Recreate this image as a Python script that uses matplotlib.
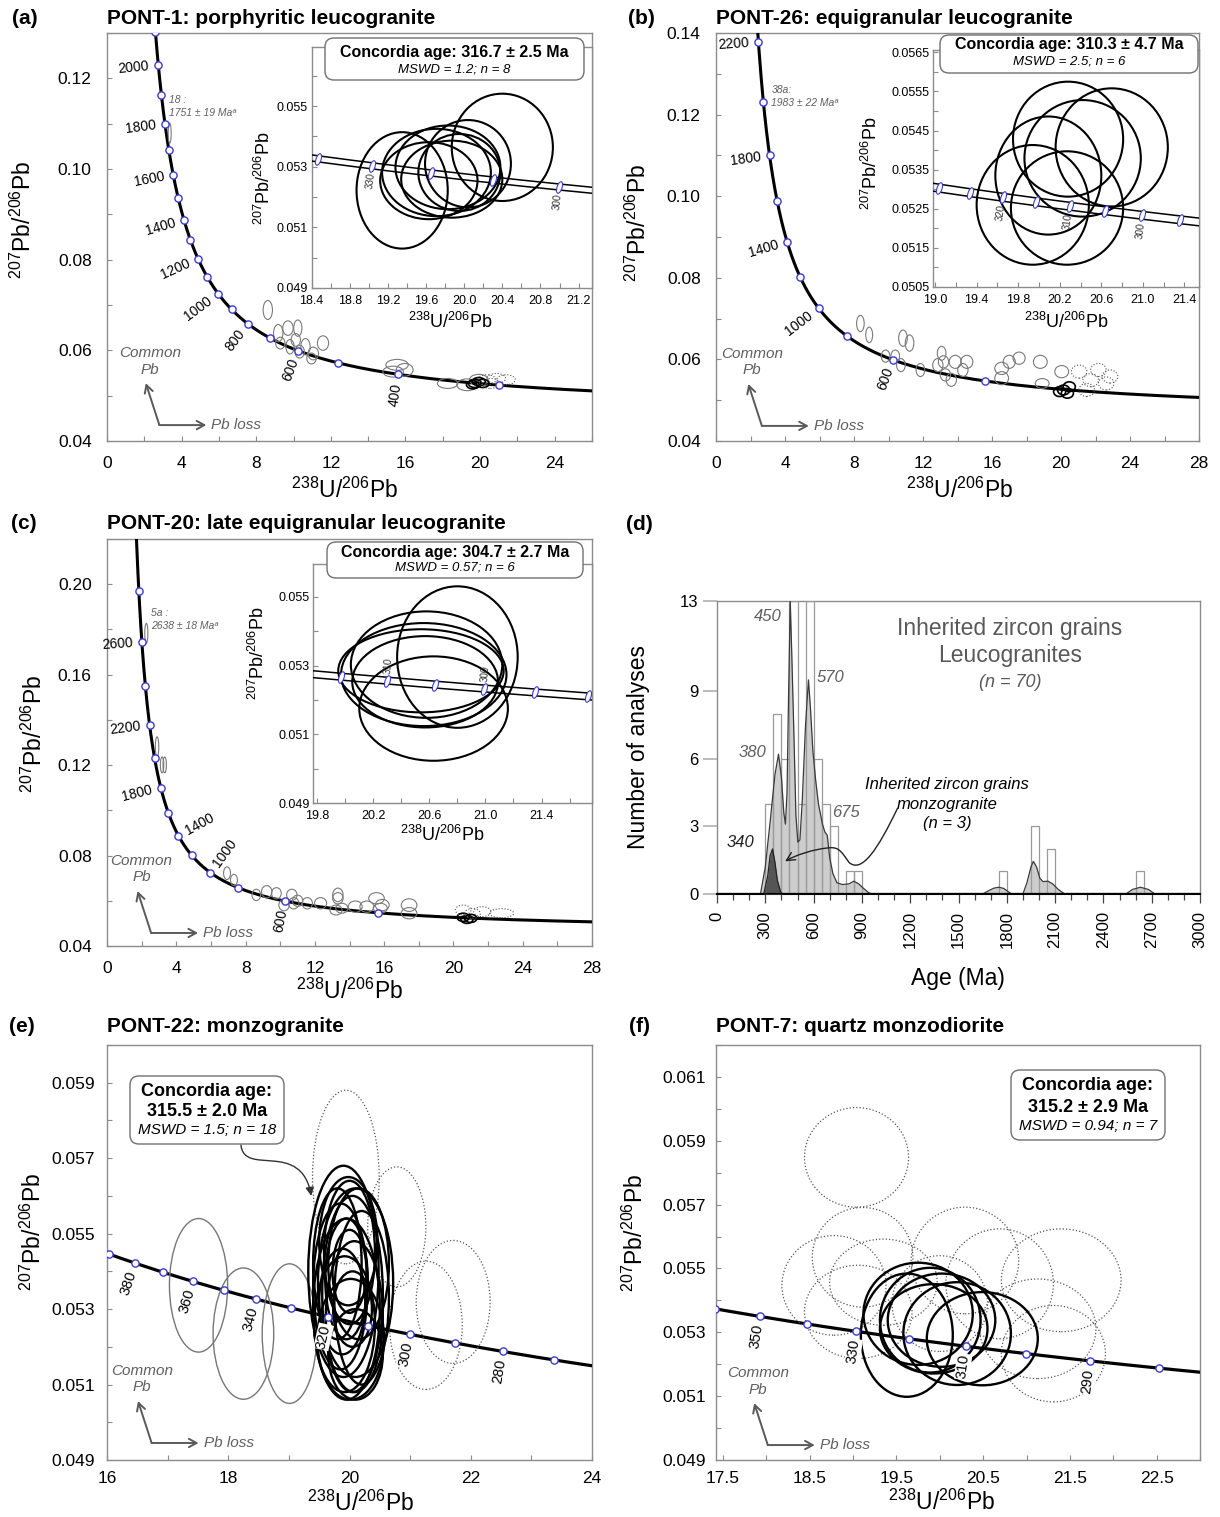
import numpy as np
import matplotlib
matplotlib.use("Agg")
import matplotlib.pyplot as plt
from matplotlib.patches import Ellipse, FancyBboxPatch, FancyArrowPatch
from matplotlib.path import Path
from matplotlib.transforms import Affine2D, offset_copy
from matplotlib.ticker import MultipleLocator, FixedLocator, FormatStrFormatter

plt.rcParams['font.family'] = ['Liberation Sans', 'DejaVu Sans']
plt.rcParams['mathtext.fontset'] = 'custom'
plt.rcParams['mathtext.rm'] = 'Liberation Sans'
plt.rcParams['mathtext.it'] = 'Liberation Sans:italic'
plt.rcParams['mathtext.bf'] = 'Liberation Sans:bold'

W, H = 1220, 1517

# decay constants and present-day 238U/235U
L238 = 1.55125e-10
L235 = 9.8485e-10
U_RATIO = 137.88
BAND = 0.0019          # half-width of the decay-constant band (relative)

# ---------------- data: ellipses as (x, y, rx, ry) ----------------
# (a) PONT-1
a_grey = [(3.36, 0.1079, 0.08, 0.0022), (8.62, 0.0689, 0.25, 0.0021),
          (9.18, 0.0638, 0.25, 0.0019), (9.70, 0.0649, 0.28, 0.0016),
          (10.23, 0.0649, 0.22, 0.0018), (10.12, 0.0623, 0.25, 0.0014),
          (9.81, 0.0608, 0.22, 0.0016), (10.64, 0.0608, 0.25, 0.0018),
          (11.06, 0.0593, 0.28, 0.0014), (11.58, 0.0616, 0.30, 0.0016),
          (10.96, 0.0582, 0.25, 0.0012), (10.33, 0.0597, 0.25, 0.0014),
          (9.29, 0.0616, 0.25, 0.0013), (15.55, 0.0568, 0.60, 0.0012),
          (15.96, 0.0557, 0.45, 0.0014), (15.34, 0.0553, 0.55, 0.0012),
          (18.26, 0.0527, 0.55, 0.0011), (19.30, 0.0524, 0.55, 0.0013),
          (19.93, 0.0535, 0.50, 0.0012)]
a_black = [(19.72, 0.0527, 0.35, 0.0009), (19.93, 0.0531, 0.35, 0.0009),
           (19.62, 0.0524, 0.35, 0.0009), (20.14, 0.0527, 0.35, 0.0009)]
a_dotted = [(20.35, 0.0535, 0.50, 0.0011), (20.87, 0.0538, 0.50, 0.0011),
            (21.39, 0.0535, 0.50, 0.0011), (20.55, 0.0527, 0.50, 0.0011)]
a_inset = [(19.35, 0.05222, 0.478, 0.00192), (20.40, 0.05364, 0.53, 0.00177),
           (19.71, 0.05281, 0.57, 0.00144), (19.83, 0.05298, 0.55, 0.00138),
           (19.87, 0.05259, 0.53, 0.00127), (19.63, 0.05254, 0.51, 0.00127),
           (19.95, 0.05281, 0.43, 0.00127), (20.04, 0.05310, 0.45, 0.00144)]

# (b) PONT-26
b_grey = [(8.37, 0.0688, 0.22, 0.0020), (8.88, 0.0660, 0.20, 0.0019),
          (10.84, 0.0652, 0.25, 0.0020), (11.22, 0.0640, 0.25, 0.0020),
          (9.83, 0.0608, 0.25, 0.0015), (10.39, 0.0608, 0.25, 0.0015),
          (10.72, 0.0586, 0.25, 0.0016), (11.85, 0.0574, 0.25, 0.0016),
          (13.08, 0.0615, 0.25, 0.0017), (13.19, 0.0594, 0.30, 0.0015),
          (12.86, 0.0586, 0.30, 0.0016), (13.87, 0.0594, 0.35, 0.0016),
          (14.54, 0.0594, 0.35, 0.0016), (14.31, 0.0574, 0.30, 0.0016),
          (13.64, 0.0550, 0.30, 0.0016), (13.30, 0.0562, 0.30, 0.0015),
          (17.00, 0.0594, 0.35, 0.0016), (16.56, 0.0578, 0.40, 0.0015),
          (16.56, 0.0554, 0.40, 0.0016), (18.80, 0.0594, 0.40, 0.0016),
          (18.91, 0.0541, 0.40, 0.0012), (20.04, 0.0570, 0.40, 0.0015),
          (17.57, 0.0603, 0.35, 0.0015)]
b_black = [(20.15, 0.0525, 0.35, 0.0012), (20.48, 0.0533, 0.35, 0.0012),
           (19.92, 0.0521, 0.35, 0.0012), (20.37, 0.0517, 0.35, 0.0012)]
b_dotted = [(21.05, 0.0570, 0.45, 0.0016), (22.17, 0.0574, 0.45, 0.0016),
            (22.62, 0.0541, 0.45, 0.0016), (21.49, 0.0525, 0.45, 0.0016),
            (22.84, 0.0558, 0.45, 0.0016), (21.72, 0.0549, 0.45, 0.0016)]
b_inset = [(20.28, 0.05428, 0.53, 0.00147), (20.70, 0.05407, 0.54, 0.00151),
           (20.09, 0.05335, 0.51, 0.00151), (19.94, 0.05260, 0.54, 0.00153),
           (20.27, 0.05252, 0.54, 0.00145), (20.42, 0.05379, 0.56, 0.00149)]

# (c) PONT-20
c_grey = [(2.27, 0.1783, 0.09, 0.0044), (2.89, 0.1281, 0.10, 0.0044),
          (3.33, 0.1201, 0.10, 0.0035), (3.18, 0.1201, 0.10, 0.0035),
          (6.93, 0.0722, 0.20, 0.0028), (7.33, 0.0692, 0.20, 0.0025),
          (8.62, 0.0626, 0.25, 0.0025), (9.22, 0.0640, 0.30, 0.0027),
          (9.78, 0.0633, 0.28, 0.0025), (10.67, 0.0626, 0.30, 0.0025),
          (10.78, 0.0589, 0.30, 0.0025), (11.00, 0.0600, 0.30, 0.0025),
          (10.22, 0.0581, 0.30, 0.0025), (11.56, 0.0589, 0.30, 0.0025),
          (12.33, 0.0589, 0.35, 0.0025), (13.33, 0.0626, 0.30, 0.0030),
          (13.33, 0.0611, 0.30, 0.0025), (13.22, 0.0559, 0.35, 0.0022),
          (13.56, 0.0567, 0.35, 0.0022), (14.33, 0.0574, 0.40, 0.0025),
          (15.00, 0.0574, 0.40, 0.0025), (15.56, 0.0611, 0.45, 0.0025),
          (15.78, 0.0567, 0.40, 0.0022), (15.89, 0.0581, 0.40, 0.0025),
          (17.44, 0.0581, 0.45, 0.0028), (17.44, 0.0545, 0.45, 0.0025)]
c_black = [(20.78, 0.0518, 0.35, 0.0018), (20.56, 0.0527, 0.35, 0.0018),
           (21.00, 0.0522, 0.35, 0.0018)]
c_dotted = [(20.56, 0.0559, 0.45, 0.0022), (21.67, 0.0552, 0.50, 0.0022),
            (22.78, 0.0545, 0.70, 0.0020), (21.10, 0.0544, 0.45, 0.0022)]
c_inset = [(20.80, 0.05325, 0.43, 0.00206), (20.58, 0.05303, 0.54, 0.00155),
           (20.56, 0.05274, 0.59, 0.00150), (20.57, 0.05253, 0.52, 0.00133),
           (20.63, 0.05175, 0.53, 0.00152), (20.54, 0.05285, 0.59, 0.00121)]

# (e) PONT-22
e_grey = [(17.51, 0.05363, 0.48, 0.00177), (18.25, 0.05235, 0.50, 0.00174),
          (19.01, 0.05235, 0.45, 0.00185)]
e_black = [(19.90, 0.05400, 0.58, 0.00280), (20.10, 0.05370, 0.62, 0.00250),
           (19.95, 0.05300, 0.55, 0.00240), (20.05, 0.05340, 0.50, 0.00260),
           (19.85, 0.05360, 0.45, 0.00220), (20.15, 0.05420, 0.50, 0.00200),
           (19.92, 0.05260, 0.50, 0.00180), (20.00, 0.05450, 0.42, 0.00190),
           (20.08, 0.05280, 0.47, 0.00200), (19.80, 0.05420, 0.40, 0.00200),
           (20.20, 0.05330, 0.45, 0.00230), (19.95, 0.05380, 0.35, 0.00160),
           (20.02, 0.05220, 0.55, 0.00160), (19.98, 0.05480, 0.48, 0.00170),
           (20.10, 0.05180, 0.45, 0.00120), (19.88, 0.05320, 0.38, 0.00140),
           (20.00, 0.05400, 0.28, 0.00110), (20.05, 0.05300, 0.32, 0.00100)]
e_dotted = [(19.94, 0.05650, 0.55, 0.00230), (20.78, 0.05518, 0.48, 0.00159),
            (21.26, 0.05257, 0.60, 0.00170), (21.71, 0.05319, 0.61, 0.00163)]

# (f) PONT-7
f_black = [(19.62, 0.05291, 0.53, 0.00193), (19.75, 0.05358, 0.63, 0.00160),
           (19.89, 0.05338, 0.58, 0.00164), (19.93, 0.05311, 0.62, 0.00140),
           (20.02, 0.05338, 0.62, 0.00146), (20.49, 0.05280, 0.64, 0.00146),
           (20.20, 0.05296, 0.62, 0.00161)]
f_dotted = [(19.04, 0.05848, 0.60, 0.00156), (19.11, 0.05535, 0.58, 0.00156),
            (18.78, 0.05447, 0.60, 0.00156), (19.35, 0.05457, 0.62, 0.00135),
            (19.06, 0.05364, 0.62, 0.00146), (20.29, 0.05525, 0.62, 0.00167),
            (20.69, 0.05452, 0.62, 0.00172), (21.40, 0.05463, 0.69, 0.00161),
            (21.13, 0.05311, 0.67, 0.00156), (21.31, 0.05233, 0.60, 0.00151),
            (20.00, 0.05390, 0.55, 0.00150)]

# concordia age ticks (Ma)
a_marks = list(range(300, 2201, 100))
a_labels = [400, 600, 800, 1000, 1200, 1400, 1600, 1800, 2000]
b_marks = list(range(400, 2401, 200))
b_labels = [600, 1000, 1400, 1800, 2200]
c_marks = list(range(400, 3001, 200))
c_labels_left = [600, 1800, 2200, 2600]
c_labels_right = [1000, 1400]
a_inset_marks = [350, 340, 330, 320, 310, 300, 290]
a_inset_labels = [330, 300]
b_inset_marks = [335, 330, 325, 320, 315, 310, 305, 300, 295, 290]
b_inset_labels = [320, 310, 300]
c_inset_marks = [320, 315, 310, 305, 300, 295, 290, 285]
c_inset_labels = [310, 300]
e_marks = list(range(260, 401, 10))
e_labels = [380, 360, 340, 320, 300, 280]
f_marks = list(range(270, 361, 10))
f_labels = [350, 330, 310, 290]

# (d) inherited zircon ages: histogram (50 Ma bins) and probability curves
bin_left = [300, 350, 400, 450, 500, 550, 600, 650, 700, 800, 850, 1750, 1950, 2050, 2600]
bin_count = [4, 8, 6, 13, 4, 13, 6, 4, 3, 1, 1, 1, 3, 2, 1]
leuco_age = [270, 300, 330, 360, 382, 400, 415, 425, 435, 445, 455, 465, 478, 490, 502,
             515, 530, 550, 568, 580, 595, 612, 630, 655, 670, 685, 700, 720, 745, 780,
             820, 850, 880, 910, 940, 960]
leuco_dens = [0, 1.2, 3.2, 5.3, 6.2, 5.2, 3.6, 3.1, 4.5, 9.0, 13.0, 10.5, 7.0, 3.5, 2.3,
              2.4, 4.2, 7.5, 9.5, 8.3, 6.4, 5.1, 4.0, 3.1, 2.75, 2.6, 1.6, 0.9, 0.5, 0.42,
              0.45, 0.57, 0.45, 0.25, 0.07, 0]
old1_age = [1650, 1680, 1720, 1750, 1780, 1810, 1830]
old1_dens = [0, 0.12, 0.26, 0.30, 0.25, 0.1, 0]
old2_age = [1900, 1925, 1950, 1965, 1985, 2005, 2025, 2055, 2085, 2120, 2160]
old2_dens = [0, 0.5, 1.2, 1.45, 1.2, 0.7, 0.55, 0.57, 0.45, 0.2, 0]
old3_age = [2540, 2580, 2630, 2680, 2720]
old3_dens = [0, 0.2, 0.3, 0.2, 0]
monzo_age = [290, 315, 330, 345, 360, 375, 395, 405]
monzo_dens = [0, 0.8, 1.7, 2.0, 1.4, 0.6, 0.1, 0]

BLUE = '#3b3bd1'
SPINE = '#8c8c8c'
GREY_TXT = '#606060'


def tw(age_ma):
    t = np.asarray(age_ma, dtype=float) * 1e6
    e8 = np.expm1(L238 * t)
    e5 = np.expm1(L235 * t)
    return 1.0 / e8, e5 / e8 / U_RATIO


fig = plt.figure(figsize=(W / 100, H / 100), dpi=100)


def px_axes(l, t, r, b, **kw):
    return fig.add_axes([l / W, 1 - b / H, (r - l) / W, (b - t) / H], **kw)


def ftext(x, y, s, **kw):
    kw.setdefault('ha', 'center')
    kw.setdefault('va', 'center')
    return fig.text(x / W, 1 - y / H, s, **kw)


def style(ax, xmaj, xmin, ymaj, ymin, xfmt, yfmt, fs, xpad, ypad, xoff=0.0, yoff=0.0):
    for s in ax.spines.values():
        s.set_color(SPINE)
        s.set_linewidth(1.0)
    ax.xaxis.set_major_locator(MultipleLocator(xmaj, offset=xoff))
    ax.xaxis.set_minor_locator(MultipleLocator(xmin))
    ax.yaxis.set_major_locator(MultipleLocator(ymaj, offset=yoff))
    ax.yaxis.set_minor_locator(MultipleLocator(ymin))
    ax.xaxis.set_major_formatter(FormatStrFormatter(xfmt))
    ax.yaxis.set_major_formatter(FormatStrFormatter(yfmt))
    ax.tick_params(which='both', direction='in', length=3.5, width=0.8, color=SPINE,
                   labelsize=fs)
    ax.tick_params(axis='x', which='major', pad=xpad)
    ax.tick_params(axis='y', which='major', pad=ypad)


def ellipses(ax, rows, color='k', lw=1.0, ls='-', z=4):
    for x, y, rx, ry in rows:
        ax.add_patch(Ellipse((x, y), 2 * rx, 2 * ry, fill=False, ec=color, lw=lw,
                             ls=ls, zorder=z))


def concordia(ax, t0, t1, marks, lw=2.2):
    ages = np.geomspace(t0, t1, 900)
    x, y = tw(ages)
    ax.plot(x, y, color='k', lw=lw, zorder=3)
    mx, my = tw(marks)
    ax.plot(mx, my, 'o', ms=5.2, mfc='white', mec=BLUE, mew=1.0, zorder=7, clip_on=True)


band_marker = Path.unit_circle().transformed(Affine2D().scale(0.42, 1.0).rotate_deg(-18))


def concordia_band(ax, t0, t1, marks):
    ages = np.linspace(t0, t1, 300)
    x, y = tw(ages)
    for f in (1 - BAND, 1 + BAND):
        ax.plot(x, y * f, color='k', lw=1.1, zorder=3)
    mx, my = tw(marks)
    ax.plot(mx, my, marker=band_marker, ls='none', ms=8.5, mfc='white', mec=BLUE,
            mew=0.8, zorder=7)


def age_labels(ax, ages, side=-1, off=6.0, fs=10, color='k', box=False):
    for a in ages:
        x0, y0 = tw(a)
        p_old = ax.transData.transform((tw(a + 1)[0], tw(a + 1)[1]))
        p_young = ax.transData.transform((tw(a - 1)[0], tw(a - 1)[1]))
        dx, dy = p_young - p_old
        ang = np.arctan2(dy, dx)
        if side < 0:
            n = np.array([np.sin(ang), -np.cos(ang)])
            rot = np.degrees(np.arctan2(-n[1], -n[0]))
            ha = 'right'
        else:
            n = np.array([-np.sin(ang), np.cos(ang)])
            rot = np.degrees(np.arctan2(n[1], n[0]))
            ha = 'left'
        kw = {}
        if box:
            kw['bbox'] = dict(boxstyle='square,pad=0.05', fc='white', ec='none')
        ax.annotate(str(a), (x0, y0), xytext=(n[0] * off, n[1] * off),
                    textcoords='offset points', rotation=rot, rotation_mode='anchor',
                    ha=ha, va='center', fontsize=fs, color=color, zorder=8, **kw)


def pb_arrows(ax, fx, fy):
    c = ax.transAxes
    up = offset_copy(c, fig=fig, x=-9.8, y=30.2, units='points')
    rt = offset_copy(c, fig=fig, x=33.8, y=0, units='points')
    ap = dict(arrowstyle='->,head_length=0.55,head_width=0.3', color='#5a5a5a', lw=1.4,
              shrinkA=0, shrinkB=0)
    ax.annotate('', xy=(fx, fy), xycoords=up, xytext=(fx, fy), textcoords=c, arrowprops=ap)
    ax.annotate('', xy=(fx, fy), xycoords=rt, xytext=(fx, fy), textcoords=c, arrowprops=ap)
    ax.annotate('Pb loss', (fx, fy), xycoords=c, xytext=(37.4, 0), textcoords='offset points',
                ha='left', va='center', fontsize=11, style='italic', color=GREY_TXT)
    ax.annotate('Common\nPb', (fx, fy), xycoords=c, xytext=(-7, 46), textcoords='offset points',
                ha='center', va='center', fontsize=11, style='italic', color=GREY_TXT,
                linespacing=1.25)


def age_box(l, t, r, b, lines):
    p = FancyBboxPatch((l / 100, (H - b) / 100), (r - l) / 100, (b - t) / 100,
                       boxstyle='round,pad=0,rounding_size=0.09', transform=fig.dpi_scale_trans,
                       fc='white', ec='#707070', lw=1.0, zorder=10)
    fig.add_artist(p)
    cx = (l + r) / 2
    for s, y, fs, w, st in lines:
        ftext(cx, y, s, fontsize=fs, fontweight=w, style=st, zorder=11)


PB76 = r'$^{207}$Pb/$^{206}$Pb'
U86 = r'$^{238}$U/$^{206}$Pb'

# ---------------- (a) ----------------
ax = px_axes(107, 33, 592, 441)
ax.set_xlim(0, 26)
ax.set_ylim(0.04, 0.13)
style(ax, 4, 2, 0.02, 0.01, '%d', '%.2f', 12.5, 11, 11)
concordia(ax, 180, 3500, a_marks)
ellipses(ax, a_grey, '#7a7a7a', 0.8)
ellipses(ax, a_black, 'k', 1.2)
ellipses(ax, a_dotted, '#555555', 0.8, ':')
age_labels(ax, a_labels, -1, 6.5, 10)
ax.text(3.34, 0.1152, '18 :', fontsize=7.5, style='italic', color=GREY_TXT, va='center')
ax.text(3.34, 0.1124, '1751 \u00b1 19 Ma\u00aa', fontsize=7.5, style='italic', color=GREY_TXT,
        va='center')
pb_arrows(ax, 0.108, 0.039)

ai = px_axes(311.5, 47, 592, 288, facecolor='white')
ai.set_xlim(18.4, 21.34)
ai.set_ylim(0.049, 0.05695)
style(ai, 0.4, 0.2, 0.002, 0.001, '%.1f', '%.3f', 9, 5, 2.5, yoff=0.001)
concordia_band(ai, 280, 360, a_inset_marks)
ellipses(ai, a_inset, 'k', 1.5)
age_labels(ai, a_inset_labels, -1, 5, 7, '#333333')

# ---------------- (b) ----------------
bx = px_axes(716, 33, 1199, 441)
bx.set_xlim(0, 28)
bx.set_ylim(0.04, 0.14)
style(bx, 4, 2, 0.02, 0.01, '%d', '%.2f', 12.5, 11, 11)
concordia(bx, 180, 3500, b_marks)
ellipses(bx, b_grey, '#7a7a7a', 0.8)
ellipses(bx, b_black, 'k', 1.2)
ellipses(bx, b_dotted, '#555555', 0.8, ':')
age_labels(bx, b_labels, -1, 6.5, 10)
bx.text(3.21, 0.1260, '38a:', fontsize=7.5, style='italic', color=GREY_TXT, va='center')
bx.text(3.21, 0.1228, '1983 \u00b1 22 Ma\u00aa', fontsize=7.5, style='italic', color=GREY_TXT,
        va='center')
pb_arrows(bx, 0.095, 0.037)

bi = px_axes(933, 50, 1199, 287, facecolor='white')
bi.set_xlim(18.98, 21.54)
bi.set_ylim(0.0505, 0.05656)
style(bi, 0.4, 0.2, 0.001, 0.0005, '%.1f', '%.4f', 9, 5, 2.5, xoff=0.2, yoff=0.0005)
concordia_band(bi, 280, 340, b_inset_marks)
ellipses(bi, b_inset, 'k', 1.5)
age_labels(bi, b_inset_labels, -1, 5, 7, '#333333')

# ---------------- (c) ----------------
cx = px_axes(107, 539, 592, 946)
cx.set_xlim(0, 28)
cx.set_ylim(0.04, 0.22)
style(cx, 4, 2, 0.04, 0.02, '%d', '%.2f', 12.5, 11, 11)
concordia(cx, 180, 3500, c_marks)
ellipses(cx, c_grey, '#7a7a7a', 0.8)
ellipses(cx, c_black, 'k', 1.2)
ellipses(cx, c_dotted, '#555555', 0.8, ':')
age_labels(cx, c_labels_left, -1, 6.5, 10)
age_labels(cx, c_labels_right, 1, 6.5, 10)
cx.text(2.56, 0.1874, '5a :', fontsize=7.5, style='italic', color=GREY_TXT, va='center')
cx.text(2.56, 0.1817, '2638 \u00b1 18 Ma\u00aa', fontsize=7.5, style='italic', color=GREY_TXT,
        va='center')
pb_arrows(cx, 0.091, 0.032)

ci = px_axes(313, 564, 592, 803, facecolor='white')
ci.set_xlim(19.77, 21.76)
ci.set_ylim(0.049, 0.05596)
style(ci, 0.4, 0.2, 0.002, 0.001, '%.1f', '%.3f', 9, 5, 2.5, xoff=0.2, yoff=0.001)
concordia_band(ci, 270, 330, c_inset_marks)
ellipses(ci, c_inset, 'k', 1.5)
age_labels(ci, c_inset_labels, 1, 5, 7, '#333333')

# ---------------- (d) ----------------
dx = px_axes(717, 601, 1200, 894)
dx.set_xlim(0, 3000)
dx.set_ylim(0, 13)
for curve_age, curve_dens in [(leuco_age, leuco_dens), (old1_age, old1_dens),
                              (old2_age, old2_dens), (old3_age, old3_dens)]:
    dx.fill_between(curve_age, curve_dens, color='#cdcdcd', lw=0, zorder=2)
dx.bar(bin_left, bin_count, width=50, align='edge', facecolor='none', edgecolor='#9a9a9a',
       lw=0.9, zorder=3)
for curve_age, curve_dens in [(leuco_age, leuco_dens), (old1_age, old1_dens),
                              (old2_age, old2_dens), (old3_age, old3_dens)]:
    dx.plot(curve_age, curve_dens, color='#3a3a3a', lw=0.9, zorder=4)
dx.fill_between(monzo_age, monzo_dens, color='#555555', lw=0, zorder=5)
dx.plot(monzo_age, monzo_dens, color='#222222', lw=0.9, zorder=5)
dx.axhline(0, color='k', lw=1.6, zorder=6)
for s in dx.spines.values():
    s.set_color('#8c8c8c')
    s.set_linewidth(1.0)
dx.spines['bottom'].set_color('k')
dx.spines['bottom'].set_linewidth(1.5)
dx.xaxis.set_major_locator(MultipleLocator(300))
dx.xaxis.set_minor_locator(MultipleLocator(100))
dx.yaxis.set_major_locator(FixedLocator([0, 3, 6, 9, 13]))
dx.tick_params(axis='x', which='major', direction='out', length=6.5, width=0.9, color='#444444',
               labelsize=12, labelrotation=90, pad=6)
dx.tick_params(axis='x', which='minor', direction='out', length=4.5, width=0.9, color='#444444')
dx.tick_params(axis='y', direction='out', length=10, width=1.2, color='#b0b0b0', labelsize=12,
               pad=3.5)
for s, xy, col in [('450', (313, 12.3), GREY_TXT), ('570', (707, 9.6), GREY_TXT),
                   ('380', (220, 6.3), GREY_TXT), ('675', (803, 3.6), GREY_TXT),
                   ('340', (146, 2.3), '#222222')]:
    dx.text(xy[0], xy[1], s, fontsize=12, style='italic', color=col, ha='center', va='center',
            zorder=8)
dx.text(1819, 11.8, 'Inherited zircon grains', fontsize=16.5, color='#595959', ha='center',
        va='center')
dx.text(1819, 10.6, 'Leucogranites', fontsize=16.5, color='#595959', ha='center', va='center')
dx.text(1819, 9.4, '(n = 70)', fontsize=13, style='italic', color='#595959', ha='center',
        va='center')
dx.text(1431, 4.85, 'Inherited zircon grains', fontsize=12, style='italic', ha='center',
        va='center')
dx.text(1431, 3.99, 'monzogranite', fontsize=12, style='italic', ha='center', va='center')
dx.text(1431, 3.15, '(n = 3)', fontsize=12, style='italic', ha='center', va='center')
arrow_path = Path([(1121, 3.8), (1000, 2.0), (900, 0.9), (820, 1.4),
                   (780, 1.8), (760, 2.1), (700, 2.05),
                   (600, 2.0), (480, 1.7), (423, 1.45)],
                  [Path.MOVETO, Path.CURVE4, Path.CURVE4, Path.CURVE4,
                   Path.CURVE4, Path.CURVE4, Path.CURVE4,
                   Path.CURVE4, Path.CURVE4, Path.CURVE4])
dx.add_patch(FancyArrowPatch(path=arrow_path, arrowstyle='->,head_length=6,head_width=3',
                             color='#222222', lw=1.0, zorder=9))

# ---------------- (e) ----------------
ex = px_axes(107, 1045, 592, 1460)
ex.set_xlim(16, 24)
ex.set_ylim(0.049, 0.060)
style(ex, 2, 1, 0.002, 0.001, '%d', '%.3f', 12.5, 8, 8.5, yoff=0.001)
concordia(ex, 250, 420, e_marks, lw=2.3)
ellipses(ex, e_grey, '#777777', 1.0)
ellipses(ex, e_dotted, '#555555', 0.9, ':')
ellipses(ex, e_black, 'k', 1.7, z=5)
age_labels(ex, e_labels, -1, 6, 10.5, box=True)
pb_arrows(ex, 0.092, 0.041)
e_arrow = Path([(18.21, 0.05735), (18.26, 0.0565), (19.2, 0.0575), (19.37, 0.0560)],
               [Path.MOVETO, Path.CURVE4, Path.CURVE4, Path.CURVE4])
ex.add_patch(FancyArrowPatch(path=e_arrow, arrowstyle='-|>,head_length=5,head_width=2.5',
                             color='#333333', lw=1.0, zorder=9))

# ---------------- (f) ----------------
fx = px_axes(716, 1045, 1200, 1460)
fx.set_xlim(17.42, 23.0)
fx.set_ylim(0.049, 0.062)
style(fx, 1.0, 0.5, 0.002, 0.001, '%.1f', '%.3f', 12.5, 8, 7, xoff=0.5, yoff=0.001)
concordia(fx, 250, 380, f_marks, lw=2.3)
ellipses(fx, f_dotted, '#555555', 0.9, ':')
ellipses(fx, f_black, 'k', 1.7, z=5)
age_labels(fx, f_labels, -1, 6, 10.5, box=True)
pb_arrows(fx, 0.107, 0.036)

# ---------------- boxes, titles, axis labels ----------------
age_box(325, 38, 584, 80, [('Concordia age: 316.7 \u00b1 2.5 Ma', 52, 11.5, 'bold', 'normal'),
                           ('MSWD = 1.2; n = 8', 69, 9.5, 'normal', 'italic')])
age_box(940, 35, 1198, 73, [('Concordia age: 310.3 \u00b1 4.7 Ma', 45, 11.5, 'bold', 'normal'),
                            ('MSWD = 2.5; n = 6', 62, 9.5, 'normal', 'italic')])
age_box(327, 542, 583, 578, [('Concordia age: 304.7 \u00b1 2.7 Ma', 552, 11.5, 'bold', 'normal'),
                             ('MSWD = 0.57; n = 6', 568, 9.5, 'normal', 'italic')])
age_box(130, 1076, 284, 1144, [('Concordia age:', 1091, 13, 'bold', 'normal'),
                               ('315.5 \u00b1 2.0 Ma', 1112, 13, 'bold', 'normal'),
                               ('MSWD = 1.5; n = 18', 1130, 11, 'normal', 'italic')])
age_box(1011, 1070, 1165, 1140, [('Concordia age:', 1086, 13, 'bold', 'normal'),
                                 ('315.2 \u00b1 2.9 Ma', 1107, 13, 'bold', 'normal'),
                                 ('MSWD = 0.94; n = 7', 1126, 11, 'normal', 'italic')])

for letter, lx, tx, y, title in [('(a)', 25, 107, 19, 'PONT-1: porphyritic leucogranite'),
                                  ('(b)', 641, 716, 19, 'PONT-26: equigranular leucogranite'),
                                  ('(c)', 24, 107, 523, 'PONT-20: late equigranular leucogranite'),
                                  ('(d)', 639, None, 525, None),
                                  ('(e)', 22, 107, 1027, 'PONT-22: monzogranite'),
                                  ('(f)', 640, 716, 1027, 'PONT-7: quartz monzodiorite')]:
    ftext(lx, y, letter, fontsize=15, fontweight='bold')
    if title:
        ftext(tx, y, title, fontsize=15, fontweight='bold', ha='left')

for x, y, s, rot, fs in [(23, 220, PB76, 90, 16.5), (345, 490, U86, 0, 16.5),
                         (638, 223, PB76, 90, 16.5), (960, 490, U86, 0, 16.5),
                         (34, 734, PB76, 90, 16.5), (350, 991, U86, 0, 16.5),
                         (33, 1232, PB76, 90, 16.5), (361, 1503, U86, 0, 16.5),
                         (635, 1233, PB76, 90, 16.5), (942, 1502, U86, 0, 16.5),
                         (264, 178, PB76, 90, 13), (450, 322, U86, 0, 13),
                         (871, 163, PB76, 90, 13), (1066, 322, U86, 0, 13),
                         (258, 653, PB76, 90, 13), (442, 835, U86, 0, 13)]:
    ftext(x, y, s, rotation=rot, fontsize=fs)
ftext(639, 747, 'Number of analyses', rotation=90, fontsize=16.5)
ftext(958, 978, 'Age (Ma)', fontsize=16.5)

fig.savefig('out.png', dpi=100)
